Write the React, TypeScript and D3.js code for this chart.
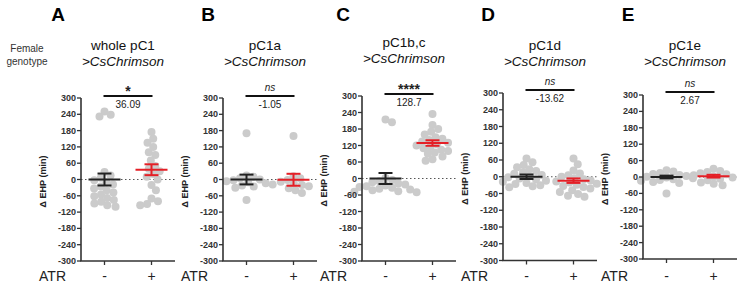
import React from "react";
import * as d3 from "d3";

const panelLetters = ["A", "B", "C", "D", "E"];
const titleLine1 = ["whole pC1", "pC1a", "pC1b,c", "pC1d", "pC1e"];
const titleLine2 = ">CsChrimson";
const sigMarks = ["*", "ns", "****", "ns", "ns"];
const diffLabels = ["36.09", "-1.05", "128.7", "-13.62", "2.67"];
const yTicks = [300, 240, 180, 120, 60, 0, -60, -120, -180, -240, -300];
const groups = ["-", "+"];

const minusValues = [
  [250, 238, 232, 28, 15, 6, -3, -10, -18, -26, -33, -40, -48, -55, -62, -68, -75, -82, -88, -95, -100],
  [170, 15, 10, 5, 0, -3, -6, -10, -14, -18, -22, -26, -30, -75],
  [215, 205, 2, -5, -10, -14, -18, -22, -25, -28, -31, -34, -37, -40, -43, -46, -48, -50],
  [65, 52, 42, 34, 27, 21, 16, 11, 6, 2, -2, -6, -10, -14, -18, -22, -26, -30, -34, -38],
  [25, 20, 15, 11, 7, 4, 1, -2, -5, -8, -11, -14, -18, -22, -60],
];
const plusValues = [
  [175, 150, 135, 120, 100, 90, 70, 50, 40, 30, 20, 10, 0, -20, -40, -70, -80, -90, -95],
  [160, 12, 5, -2, -8, -14, -20, -25, -32, -40, -50],
  [235, 195, 180, 170, 160, 150, 145, 140, 135, 130, 125, 120, 115, 110, 105, 100, 95, 90, 80, 70, 65],
  [65, 45, 22, 12, 5, 0, -5, -9, -13, -17, -21, -25, -29, -33, -37, -42, -48, -55, -62, -68, -72],
  [30, 22, 18, 14, 10, 6, 2, -2, -6, -12, -20, -25, -30],
];
const minusMean = [0, 0, 0, 0, 0];
const minusSem = [22, 18, 20, 8, 5];
const plusMean = [36, -1, 129, -14, 3];
const plusSem = [20, 22, 10, 8, 5];

// layout
const axisX = [81, 223, 362, 503, 643];
const yTop = [98, 98, 96, 93, 95];
const yBottom = [261, 261, 261, 260.5, 259];
const sigY = [96, 96, 94, 90, 92];
const t1Y = [45, 45, 42, 45, 45];
const t2Y = [61, 61, 58, 61, 61];
const letterDX = [-23, -15, -19, -15, -15];
const AXIS_LEN = 94;
const R = 4;
const FONT = "'Liberation Sans', Arial, Helvetica, sans-serif";
const RED = "#e41f26";
const DARK = "#222";

function swarm(values: number[], y: (v: number) => number, cx: number) {
  const placed: { x: number; y: number }[] = [];
  const sorted = [...values].sort((a, b) => b - a);
  const D = 2 * R - 1;
  for (const v of sorted) {
    const py = y(v);
    const cands = [cx];
    for (const p of placed) {
      const dy = Math.abs(p.y - py);
      if (dy < D) {
        const dx = Math.sqrt(D * D - dy * dy);
        cands.push(p.x + dx + 0.01, p.x - dx - 0.01);
      }
    }
    cands.sort((a, b) => Math.abs(a - cx) - Math.abs(b - cx));
    let best = cx;
    for (const c of cands) {
      const ok = placed.every((p) => (p.x - c) ** 2 + (p.y - py) ** 2 >= D * D - 0.01);
      if (ok) {
        best = c;
        break;
      }
    }
    placed.push({ x: best, y: py });
  }
  return placed;
}

function Panel({ i }: { i: number }) {
  const ax = axisX[i];
  const y = d3.scaleLinear().domain([-300, 300]).range([yBottom[i], yTop[i]]);
  const x = d3.scalePoint<string>().domain(groups).range([ax, ax + AXIS_LEN]).padding(0.5);
  const xm = x("-") as number;
  const xp = x("+") as number;
  const ptsM = swarm(minusValues[i], y, xm);
  const ptsP = swarm(plusValues[i], y, xp);
  const center = ax + 42;

  const errBar = (cx: number, mean: number, sem: number, color: string) => (
    <g stroke={color} strokeWidth={2} fill="none">
      <line x1={cx - 16} x2={cx + 16} y1={y(mean)} y2={y(mean)} />
      <line x1={cx} x2={cx} y1={y(mean + sem)} y2={y(mean - sem)} />
      <line x1={cx - 7} x2={cx + 7} y1={y(mean + sem)} y2={y(mean + sem)} />
      <line x1={cx - 7} x2={cx + 7} y1={y(mean - sem)} y2={y(mean - sem)} />
    </g>
  );

  const isNs = sigMarks[i] === "ns";

  return (
    <g fontFamily={FONT}>
      <text x={ax + letterDX[i]} y={21} fontSize={19} fontWeight="bold" textAnchor="middle" fill="#000">
        {panelLetters[i]}
      </text>
      <text x={center} y={t1Y[i] + 5} fontSize={13.5} textAnchor="middle" fill="#111">
        {titleLine1[i]}
      </text>
      <text x={center} y={t2Y[i] + 5} fontSize={13.5} fontStyle="italic" textAnchor="middle" fill="#111">
        {titleLine2}
      </text>

      {/* significance */}
      <line x1={xm - 1} x2={xp + 1} y1={sigY[i]} y2={sigY[i]} stroke="#111" strokeWidth={2} />
      {isNs ? (
        <text x={(xm + xp) / 2} y={sigY[i] - 5} fontSize={10} fontStyle="italic" textAnchor="middle" fill="#222">
          ns
        </text>
      ) : (
        <text x={(xm + xp) / 2} y={sigY[i]} fontSize={14} fontWeight="bold" textAnchor="middle" fill="#222">
          {sigMarks[i]}
        </text>
      )}
      <text x={(xm + xp) / 2} y={sigY[i] + 12} fontSize={10} textAnchor="middle" fill="#222">
        {diffLabels[i]}
      </text>

      {/* zero dotted line */}
      <line x1={ax} x2={ax + AXIS_LEN} y1={y(0)} y2={y(0)} stroke="#555" strokeWidth={1} strokeDasharray="1.5,2.5" />

      {/* points */}
      {ptsM.map((p, k) => (
        <circle key={"m" + k} cx={p.x} cy={p.y} r={R} fill="#cbcbcb" />
      ))}
      {ptsP.map((p, k) => (
        <circle key={"p" + k} cx={p.x} cy={p.y} r={R} fill="#cbcbcb" />
      ))}
      {errBar(xm, minusMean[i], minusSem[i], DARK)}
      {errBar(xp, plusMean[i], plusSem[i], RED)}

      {/* y axis */}
      <line x1={ax} x2={ax} y1={y(300)} y2={y(-300)} stroke="#333" strokeWidth={1.6} />
      {yTicks.map((t) => (
        <g key={t}>
          <line x1={ax - 4} x2={ax} y1={y(t)} y2={y(t)} stroke="#333" strokeWidth={1.3} />
          <text x={ax - 5} y={y(t) + 3} fontSize={9} fontWeight="bold" textAnchor="end" fill="#333">
            {t}
          </text>
        </g>
      ))}
      <text
        transform={`translate(${ax - 38},${(y(300) + y(-300)) / 2 + 2}) rotate(-90)`}
        fontSize={9}
        fontWeight="bold"
        textAnchor="middle"
        dy="0.35em"
        fill="#222"
      >
        Δ EHP (min)
      </text>

      {/* x axis */}
      <line x1={ax - 0.8} x2={ax + AXIS_LEN} y1={y(-300)} y2={y(-300)} stroke="#333" strokeWidth={1.6} />
      {groups.map((g) => (
        <g key={g}>
          <line x1={x(g)} x2={x(g)} y1={y(-300)} y2={y(-300) + 4} stroke="#333" strokeWidth={1.3} />
          <text x={x(g)} y={281} fontSize={14} textAnchor="middle" fill="#222">
            {g}
          </text>
        </g>
      ))}
      <text x={ax - 15} y={281} fontSize={14} textAnchor="end" fill="#222">
        ATR
      </text>
    </g>
  );
}

export default function App() {
  return (
    <svg width={744} height={288} style={{ position: "absolute", left: 0, top: 0, background: "#fff" }}>
      <rect width={744} height={288} fill="#fff" />
      <text x={27} y={52} fontSize={10} textAnchor="middle" fill="#333" fontFamily={FONT}>
        Female
      </text>
      <text x={27} y={65} fontSize={10} textAnchor="middle" fill="#333" fontFamily={FONT}>
        genotype
      </text>
      {panelLetters.map((_, i) => (
        <Panel key={i} i={i} />
      ))}
    </svg>
  );
}
